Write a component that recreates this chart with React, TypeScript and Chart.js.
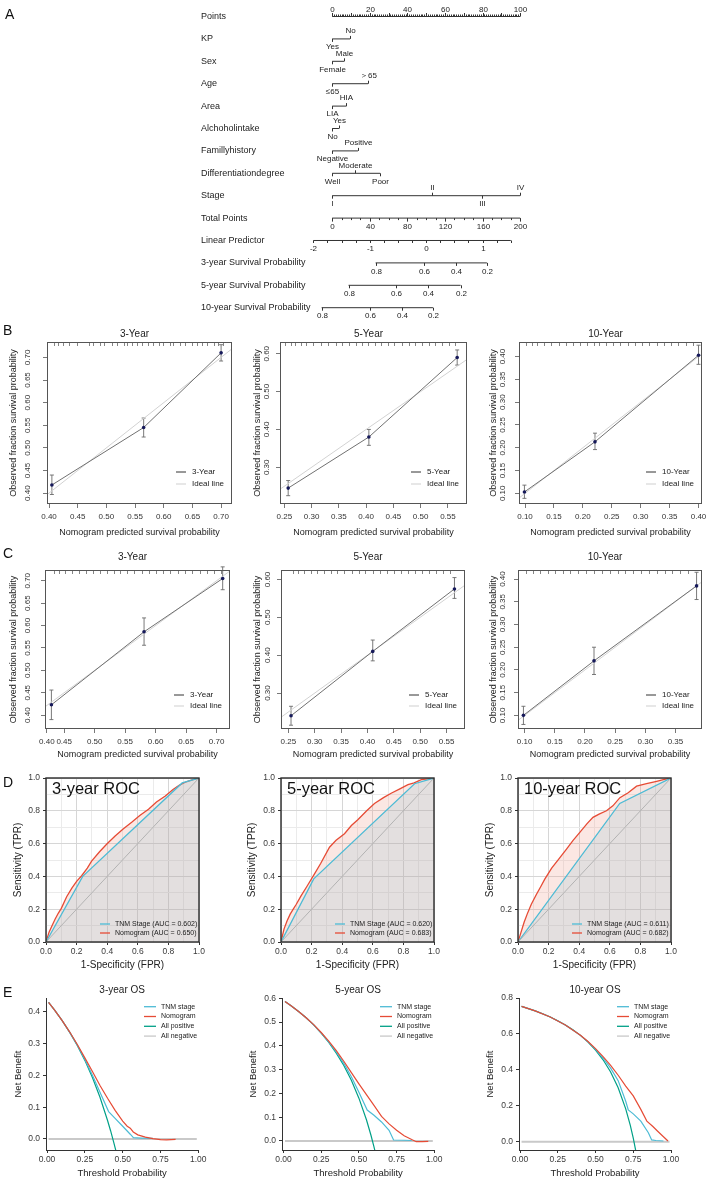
import React, { useEffect, useRef } from 'react';
import { Chart, registerables } from 'chart.js';

Chart.register(...registerables);

const FONT = '"Liberation Sans", Arial, Helvetica, sans-serif';
const BLUE = '#4DBBD5';
const RED = '#E64B35';
const TEAL = '#00A087';
const NEG_GREY = '#C9C9C9';

/* ===================== A. Nomogram data ===================== */
const nomoRowLabels = [
  'Points', 'KP', 'Sex', 'Age', 'Area', 'Alchoholintake', 'Famillyhistory',
  'Differentiationdegree', 'Stage', 'Total Points', 'Linear Predictor',
  '3-year Survival Probability', '5-year Survival Probability', '10-year Survival Probability',
];
const pointsAxisLabels = [0, 20, 40, 60, 80, 100];
const kpLevels = ['Yes', 'No'];
const kpScores = [0, 9.5];
const sexLevels = ['Female', 'Male'];
const sexScores = [0, 6.4];
const ageLevels = ['≤65', '＞65'];
const ageScores = [0, 19.1];
const areaLevels = ['LIA', 'HIA'];
const areaScores = [0, 7.6];
const alcoholLevels = ['No', 'Yes'];
const alcoholScores = [0, 3.6];
const familyLevels = ['Negative', 'Positive'];
const familyScores = [0, 13.7];
const diffLevels = ['Well', 'Moderate', 'Poor'];
const diffScores = [0, 12.2, 25.5];
const stageLevels = ['I', 'II', 'III', 'IV'];
const stageScores = [0, 53.2, 79.6, 100];
const totalPointsLabels = [0, 40, 80, 120, 160, 200];
const linearPredictorLabels = [-2, -1, 0, 1];
const linearPredictorRange = [-2, 1.5];
const survProbLabels = [0.8, 0.6, 0.4, 0.2];
const surv3Scores = [23.1, 48.6, 65.6, 82.3];
const surv5Scores = [8.7, 33.7, 51.0, 68.3];
const surv10Scores = [-5.6, 19.9, 36.9, 53.6];
const TOTAL_PER_POINT = 2;
const LP_ZERO_SCORE = 50;
const SCORE_PER_LP = 30;

/* ===================== B / C. Calibration data ===================== */
const calB3Pred = [0.405, 0.565, 0.700];
const calB3Obs = [0.418, 0.545, 0.710];
const calB3Lo = [0.397, 0.524, 0.692];
const calB3Hi = [0.440, 0.566, 0.728];
const calB3Rug = [0.408, 0.416, 0.425, 0.434, 0.448, 0.469, 0.477, 0.489, 0.495, 0.509, 0.518, 0.530, 0.536, 0.544, 0.553, 0.562, 0.573, 0.582, 0.591, 0.599, 0.611, 0.617, 0.629, 0.637, 0.649, 0.658, 0.666, 0.675, 0.687, 0.695, 0.704];

const calB5Pred = [0.257, 0.405, 0.567];
const calB5Obs = [0.245, 0.380, 0.590];
const calB5Lo = [0.225, 0.358, 0.570];
const calB5Hi = [0.265, 0.400, 0.610];
const calB5Rug = [0.252, 0.262, 0.270, 0.281, 0.290, 0.302, 0.318, 0.330, 0.345, 0.356, 0.368, 0.381, 0.392, 0.404, 0.416, 0.428, 0.440, 0.452, 0.466, 0.478, 0.490, 0.503, 0.515, 0.527, 0.540, 0.552, 0.563];

const calB10Pred = [0.099, 0.221, 0.400];
const calB10Obs = [0.103, 0.213, 0.403];
const calB10Lo = [0.089, 0.196, 0.383];
const calB10Hi = [0.118, 0.232, 0.425];
const calB10Rug = [0.102, 0.112, 0.121, 0.133, 0.145, 0.158, 0.170, 0.183, 0.195, 0.207, 0.220, 0.228, 0.240, 0.252, 0.265, 0.278, 0.290, 0.302, 0.315, 0.328, 0.340, 0.352, 0.365, 0.378, 0.390];

const calC3Pred = [0.429, 0.581, 0.710];
const calC3Obs = [0.423, 0.586, 0.705];
const calC3Lo = [0.390, 0.556, 0.680];
const calC3Hi = [0.456, 0.617, 0.731];
const calC3Rug = [0.433, 0.442, 0.452, 0.463, 0.474, 0.486, 0.497, 0.508, 0.520, 0.531, 0.542, 0.553, 0.565, 0.577, 0.589, 0.600, 0.612, 0.624, 0.636, 0.648, 0.660, 0.672, 0.684, 0.696, 0.707];

const calC5Pred = [0.255, 0.410, 0.565];
const calC5Obs = [0.240, 0.410, 0.575];
const calC5Lo = [0.215, 0.385, 0.550];
const calC5Hi = [0.265, 0.440, 0.605];
const calC5Rug = [0.258, 0.268, 0.280, 0.292, 0.305, 0.318, 0.330, 0.343, 0.356, 0.370, 0.383, 0.396, 0.410, 0.423, 0.437, 0.450, 0.463, 0.476, 0.490, 0.503, 0.517, 0.530, 0.544, 0.557];

const calC10Pred = [0.098, 0.215, 0.385];
const calC10Obs = [0.100, 0.220, 0.385];
const calC10Lo = [0.080, 0.190, 0.355];
const calC10Hi = [0.120, 0.250, 0.415];
const calC10Rug = [0.103, 0.114, 0.126, 0.138, 0.150, 0.163, 0.176, 0.189, 0.202, 0.215, 0.228, 0.241, 0.254, 0.267, 0.280, 0.293, 0.306, 0.319, 0.332, 0.345, 0.358, 0.371];

const calTicks3 = [0.40, 0.45, 0.50, 0.55, 0.60, 0.65, 0.70];
const calTicks5x = [0.25, 0.30, 0.35, 0.40, 0.45, 0.50, 0.55];
const calTicks5y = [0.30, 0.40, 0.50, 0.60];
const calTicks10 = [0.10, 0.15, 0.20, 0.25, 0.30, 0.35, 0.40];
const calTicksC10x = [0.10, 0.15, 0.20, 0.25, 0.30, 0.35];
// C 3-year: the first label sits at the left edge of the box in the original figure
const calTicksC3xPos = [0.4215, 0.45, 0.50, 0.55, 0.60, 0.65, 0.70];
const calTicksC3xText = ['0.40', '0.45', '0.50', '0.55', '0.60', '0.65', '0.70'];

/* ===================== D. ROC data ===================== */
const rocGridTicks = [0, 0.1, 0.2, 0.3, 0.4, 0.5, 0.6, 0.7, 0.8, 0.9, 1.0];
const roc3TnmFpr = [0, 0.24, 0.89, 1];
const roc3TnmTpr = [0, 0.40, 0.97, 1];
const roc3NomoFpr = [0, 0.01, 0.02, 0.04, 0.06, 0.08, 0.10, 0.135, 0.17, 0.20, 0.233, 0.27, 0.298, 0.35, 0.396, 0.45, 0.504, 0.56, 0.613, 0.67, 0.722, 0.78, 0.83, 0.87, 0.917, 0.96, 1];
const roc3NomoTpr = [0, 0.03, 0.06, 0.10, 0.14, 0.175, 0.205, 0.276, 0.33, 0.37, 0.404, 0.45, 0.493, 0.55, 0.596, 0.645, 0.689, 0.73, 0.771, 0.81, 0.854, 0.89, 0.93, 0.955, 0.977, 0.99, 1];
const roc5TnmFpr = [0, 0.214, 0.873, 1];
const roc5TnmTpr = [0, 0.385, 0.965, 1];
const roc5NomoFpr = [0, 0.01, 0.02, 0.04, 0.06, 0.08, 0.10, 0.13, 0.17, 0.218, 0.26, 0.317, 0.36, 0.415, 0.46, 0.502, 0.56, 0.611, 0.67, 0.72, 0.78, 0.83, 0.87, 0.917, 0.96, 1];
const roc5NomoTpr = [0, 0.04, 0.08, 0.13, 0.17, 0.20, 0.23, 0.28, 0.34, 0.414, 0.48, 0.578, 0.62, 0.66, 0.71, 0.746, 0.80, 0.845, 0.88, 0.907, 0.935, 0.959, 0.97, 0.99, 0.995, 1];
const roc10TnmFpr = [0, 0.665, 1];
const roc10TnmTpr = [0, 0.845, 1];
const roc10NomoFpr = [0, 0.01, 0.02, 0.04, 0.06, 0.087, 0.12, 0.15, 0.175, 0.22, 0.27, 0.317, 0.36, 0.404, 0.45, 0.49, 0.53, 0.578, 0.62, 0.666, 0.72, 0.775, 0.84, 0.906, 0.95, 1];
const roc10NomoTpr = [0, 0.03, 0.06, 0.12, 0.17, 0.23, 0.29, 0.34, 0.383, 0.45, 0.51, 0.566, 0.62, 0.668, 0.72, 0.76, 0.78, 0.80, 0.83, 0.88, 0.91, 0.95, 0.965, 0.98, 0.99, 1];

/* ===================== E. Decision curve data ===================== */
const dcaNegT = [0.01, 0.99];
const dcaNeg = [0, 0];
const dca3AllPosT = [0.01, 0.05, 0.10, 0.15, 0.20, 0.25, 0.30, 0.35, 0.40, 0.42, 0.44, 0.46];
const dca3AllPos = [0.429, 0.405, 0.372, 0.335, 0.294, 0.247, 0.193, 0.131, 0.058, 0.026, -0.009, -0.046];
const dca3NomoT = [0.01, 0.05, 0.10, 0.15, 0.20, 0.25, 0.30, 0.35, 0.40, 0.45, 0.50, 0.53, 0.55, 0.57, 0.60, 0.65, 0.70, 0.75, 0.79, 0.85];
const dca3Nomo = [0.429, 0.405, 0.372, 0.336, 0.297, 0.255, 0.212, 0.168, 0.128, 0.090, 0.056, 0.040, 0.034, 0.022, 0.013, 0.006, 0.001, -0.002, -0.003, -0.001];
const dca3TnmT = [0.01, 0.05, 0.10, 0.15, 0.20, 0.25, 0.30, 0.35, 0.407, 0.45, 0.50, 0.55, 0.571, 0.62, 0.70];
const dca3Tnm = [0.429, 0.405, 0.372, 0.335, 0.295, 0.250, 0.200, 0.147, 0.086, 0.065, 0.040, 0.015, 0.004, 0.003, 0.002];

const dca5AllPosT = [0.01, 0.05, 0.10, 0.15, 0.20, 0.25, 0.30, 0.35, 0.40, 0.45, 0.50, 0.55, 0.58, 0.60, 0.61];
const dca5AllPos = [0.586, 0.568, 0.544, 0.518, 0.488, 0.453, 0.414, 0.369, 0.317, 0.255, 0.180, 0.089, 0.024, -0.025, -0.051];
const dca5NomoT = [0.01, 0.05, 0.10, 0.15, 0.20, 0.25, 0.30, 0.35, 0.40, 0.45, 0.50, 0.55, 0.60, 0.65, 0.70, 0.75, 0.80, 0.85, 0.88, 0.92, 0.96];
const dca5Nomo = [0.586, 0.568, 0.544, 0.518, 0.489, 0.456, 0.420, 0.380, 0.335, 0.287, 0.240, 0.195, 0.150, 0.103, 0.072, 0.045, 0.022, 0.006, -0.003, -0.003, -0.002];
const dca5TnmT = [0.01, 0.05, 0.10, 0.15, 0.20, 0.25, 0.30, 0.35, 0.40, 0.45, 0.50, 0.555, 0.60, 0.65, 0.70, 0.73, 0.80, 0.85];
const dca5Tnm = [0.586, 0.568, 0.544, 0.518, 0.488, 0.454, 0.416, 0.374, 0.326, 0.270, 0.205, 0.130, 0.108, 0.080, 0.045, 0.004, 0.003, 0.002];

const dca10AllPosT = [0.01, 0.05, 0.10, 0.15, 0.20, 0.25, 0.30, 0.35, 0.40, 0.45, 0.50, 0.55, 0.60, 0.65, 0.70, 0.73, 0.75, 0.77];
const dca10AllPos = [0.753, 0.742, 0.728, 0.712, 0.694, 0.673, 0.650, 0.623, 0.592, 0.555, 0.510, 0.456, 0.388, 0.300, 0.183, 0.093, 0.020, -0.065];
const dca10NomoT = [0.01, 0.10, 0.20, 0.30, 0.40, 0.45, 0.50, 0.55, 0.60, 0.65, 0.70, 0.75, 0.80, 0.84, 0.88, 0.91, 0.95, 0.98];
const dca10Nomo = [0.753, 0.728, 0.694, 0.650, 0.593, 0.558, 0.518, 0.474, 0.425, 0.370, 0.310, 0.255, 0.180, 0.115, 0.085, 0.060, 0.028, 0.004];
const dca10TnmT = [0.01, 0.10, 0.20, 0.30, 0.40, 0.45, 0.50, 0.55, 0.60, 0.65, 0.70, 0.717, 0.75, 0.80, 0.85, 0.872, 0.90, 0.95];
const dca10Tnm = [0.753, 0.728, 0.694, 0.650, 0.592, 0.556, 0.514, 0.466, 0.410, 0.340, 0.225, 0.177, 0.155, 0.115, 0.050, 0.010, 0.007, 0.004];

const dcaXTicks = [0, 0.25, 0.5, 0.75, 1.0];
const dca3YTicks = [0, 0.1, 0.2, 0.3, 0.4];
const dca5YTicks = [0, 0.1, 0.2, 0.3, 0.4, 0.5, 0.6];
const dca10YTicks = [0, 0.2, 0.4, 0.6, 0.8];
const dcaLegendNames = ['TNM stage', 'Nomogram', 'All positive', 'All negative'];

/* ===================== shared ===================== */
const base: any = {
  responsive: false,
  animation: false,
  events: [],
  plugins: { legend: { display: false }, tooltip: { enabled: false }, title: { display: false } },
};

const xy = (xs: number[], ys: number[]) => xs.map((x, i) => ({ x, y: ys[i] }));

function ChartCanvas({ left, top, width, height, make }: any) {
  const ref = useRef<HTMLCanvasElement | null>(null);
  useEffect(() => {
    if (!ref.current) return;
    const chart = new Chart(ref.current, make());
    return () => chart.destroy();
  }, []);
  return (
    <canvas
      ref={ref}
      width={width}
      height={height}
      style={{ position: 'absolute', left, top, width, height }}
    />
  );
}

/* ===================== A. Nomogram chart ===================== */
function buildNomoRows() {
  const rows: any[] = [];
  const pMarks: any[] = [];
  for (let v = 0; v <= 100; v += 1) pMarks.push({ s: v, dir: -1, len: v % 10 === 0 ? 3.5 : 2 });
  pointsAxisLabels.forEach((v) => pMarks.push({ s: v, dir: -1, len: 0, text: String(v), off: 7 }));
  rows.push({ from: 0, to: 100, marks: pMarks });

  const cats: any[] = [
    [kpLevels, kpScores], [sexLevels, sexScores], [ageLevels, ageScores], [areaLevels, areaScores],
    [alcoholLevels, alcoholScores], [familyLevels, familyScores], [diffLevels, diffScores], [stageLevels, stageScores],
  ];
  cats.forEach(([lv, sc]) => {
    rows.push({
      from: Math.min(...sc),
      to: Math.max(...sc),
      marks: lv.map((t: string, i: number) => ({ s: sc[i], dir: i % 2 === 0 ? 1 : -1, len: 3, text: t, off: 8 })),
    });
  });

  const tMarks: any[] = [];
  for (let v = 0; v <= 200; v += 10) tMarks.push({ s: v / TOTAL_PER_POINT, dir: 1, len: totalPointsLabels.includes(v) ? 3.5 : 2 });
  totalPointsLabels.forEach((v) => tMarks.push({ s: v / TOTAL_PER_POINT, dir: 1, len: 0, text: String(v), off: 8.5 }));
  rows.push({ from: 0, to: 100, marks: tMarks });

  const lpScore = (lp: number) => LP_ZERO_SCORE + SCORE_PER_LP * lp;
  const lMarks: any[] = [];
  for (let v = linearPredictorRange[0]; v <= linearPredictorRange[1] + 1e-9; v += 0.25) lMarks.push({ s: lpScore(v), dir: 1, len: 2.5 });
  linearPredictorLabels.forEach((v) => lMarks.push({ s: lpScore(v), dir: 1, len: 0, text: String(v), off: 8 }));
  rows.push({ from: lpScore(linearPredictorRange[0]), to: lpScore(linearPredictorRange[1]), marks: lMarks });

  [surv3Scores, surv5Scores, surv10Scores].forEach((sc) => {
    rows.push({
      from: Math.min(...sc),
      to: Math.max(...sc),
      marks: survProbLabels.map((p, i) => ({ s: sc[i], dir: 1, len: 3, text: p.toFixed(1), off: 8.5 })),
    });
  });
  return rows;
}

function nomoConfig() {
  const rows = buildNomoRows();
  return {
    type: 'scatter',
    data: {
      datasets: rows.map((r, i) => ({
        data: [{ x: r.from, y: i }, { x: r.to, y: i }],
        showLine: true, fill: false, borderColor: '#333', borderWidth: 1, pointRadius: 0,
      })),
    },
    options: {
      ...base,
      layout: { padding: 0 },
      scales: {
        x: { type: 'linear', display: false, min: -176.7, max: 201.5 },
        y: { type: 'linear', display: false, min: -0.737, max: 13.46, reverse: true },
      },
    },
    plugins: [{
      id: 'nomoMarks',
      afterDatasetsDraw(chart: any) {
        const { ctx } = chart;
        const x = chart.scales.x;
        const y = chart.scales.y;
        ctx.save();
        ctx.strokeStyle = '#333';
        ctx.fillStyle = '#222';
        ctx.lineWidth = 1;
        rows.forEach((row, i) => {
          const py = y.getPixelForValue(i);
          ctx.font = `9px ${FONT}`;
          ctx.textAlign = 'left';
          ctx.textBaseline = 'middle';
          ctx.fillText(nomoRowLabels[i], 201, py);
          row.marks.forEach((m: any) => {
            const px = Math.round(x.getPixelForValue(m.s)) + 0.5;
            if (m.len > 0) {
              ctx.beginPath();
              ctx.moveTo(px, py);
              ctx.lineTo(px, py + m.dir * m.len);
              ctx.stroke();
            }
            if (m.text !== undefined) {
              ctx.font = `8px ${FONT}`;
              ctx.textAlign = 'center';
              ctx.fillText(m.text, px, py + m.dir * m.off);
            }
          });
        });
        ctx.restore();
      },
    }],
  };
}

/* ===================== B / C. Calibration ===================== */
function calibConfig(s: any, L: any) {
  const tickFont = { family: FONT, size: 8 };
  const grid = { drawOnChartArea: false, drawTicks: true, tickLength: 4, color: '#555', lineWidth: 0.8 };
  const xText = s.xTickText || null;
  return {
    type: 'scatter',
    data: {
      datasets: [
        {
          data: xy(s.pred, s.obs), showLine: true, fill: false, borderColor: '#707070', borderWidth: 1,
          pointRadius: 1.8, pointBackgroundColor: '#16195a', pointBorderWidth: 0,
        },
        {
          data: [{ x: 0, y: 0 }, { x: 1, y: 1 }], showLine: true, fill: false, borderColor: '#d2d2d2',
          borderWidth: 1, pointRadius: 0,
        },
      ],
    },
    options: {
      ...base,
      layout: { padding: { left: 0, top: L.padTop, right: L.padRight, bottom: 0 } },
      scales: {
        x: {
          type: 'linear', min: s.xRange[0], max: s.xRange[1],
          afterBuildTicks: (sc: any) => { sc.ticks = s.xTicks.map((v: number) => ({ value: v })); },
          afterFit: (sc: any) => { sc.height = L.xAxisH; },
          ticks: {
            autoSkip: false, maxRotation: 0, padding: 4, color: '#333', font: tickFont,
            callback: (v: any, i: number) => (xText ? xText[i] : Number(v).toFixed(2)),
          },
          grid, border: { display: false },
          title: { display: true, text: 'Nomogram predicted survival probability', color: '#222', font: { family: FONT, size: 9 }, padding: { top: 0, bottom: L.xTitlePad } },
        },
        y: {
          type: 'linear', min: s.yRange[0], max: s.yRange[1],
          afterBuildTicks: (sc: any) => { sc.ticks = s.yTicks.map((v: number) => ({ value: v })); },
          afterFit: (sc: any) => { sc.width = L.yAxisW; },
          ticks: { autoSkip: false, minRotation: 90, maxRotation: 90, crossAlign: 'center', padding: L.yTickPad, color: '#333', font: tickFont, callback: (v: any) => Number(v).toFixed(2) },
          grid, border: { display: false },
          title: { display: true, text: 'Observed fraction survival probability', color: '#222', font: { family: FONT, size: 9 }, padding: { top: L.yTitlePad, bottom: 0 } },
        },
      },
    },
    plugins: [{
      id: 'calibExtras',
      beforeDatasetsDraw(chart: any) {
        const { ctx } = chart;
        const x = chart.scales.x;
        const y = chart.scales.y;
        ctx.save();
        ctx.strokeStyle = '#6a6a6a';
        ctx.lineWidth = 0.9;
        s.pred.forEach((p: number, i: number) => {
          const px = x.getPixelForValue(p);
          const y1 = y.getPixelForValue(s.lo[i]);
          const y2 = y.getPixelForValue(s.hi[i]);
          ctx.beginPath();
          ctx.moveTo(px, y1); ctx.lineTo(px, y2);
          ctx.moveTo(px - 2, y1); ctx.lineTo(px + 2, y1);
          ctx.moveTo(px - 2, y2); ctx.lineTo(px + 2, y2);
          ctx.stroke();
        });
        ctx.restore();
      },
      afterDatasetsDraw(chart: any) {
        const { ctx, chartArea: a } = chart;
        const x = chart.scales.x;
        ctx.save();
        ctx.strokeStyle = '#666';
        ctx.lineWidth = 0.8;
        s.rug.forEach((r: number) => {
          const px = Math.round(x.getPixelForValue(r)) + 0.5;
          ctx.beginPath();
          ctx.moveTo(px, a.top);
          ctx.lineTo(px, a.top + 4);
          ctx.stroke();
        });
        ctx.strokeStyle = '#555';
        ctx.lineWidth = 1;
        ctx.strokeRect(a.left + 0.5, a.top + 0.5, a.right - a.left - 1, a.bottom - a.top - 1);
        ctx.fillStyle = '#222';
        ctx.font = `10px ${FONT}`;
        ctx.textAlign = 'center';
        ctx.textBaseline = 'middle';
        ctx.fillText(s.title, (a.left + a.right) / 2 - 5, a.top - L.titleGap);
        const items = [[s.title, '#333'], ['Ideal line', '#cfcfcf']];
        ctx.font = `8px ${FONT}`;
        ctx.textAlign = 'left';
        items.forEach(([t, c], k) => {
          const ly = a.bottom - (k === 0 ? L.legY1 : L.legY2);
          ctx.strokeStyle = c;
          ctx.beginPath();
          ctx.moveTo(a.right - 56, ly);
          ctx.lineTo(a.right - 46, ly);
          ctx.stroke();
          ctx.fillStyle = '#222';
          ctx.fillText(t, a.right - 40, ly);
        });
        ctx.restore();
      },
    }],
  };
}

const calibSpecs: any[] = [
  { title: '3-Year', pred: calB3Pred, obs: calB3Obs, lo: calB3Lo, hi: calB3Hi, rug: calB3Rug, xRange: [0.3965, 0.719], yRange: [0.376, 0.734], xTicks: calTicks3, yTicks: calTicks3 },
  { title: '5-Year', pred: calB5Pred, obs: calB5Obs, lo: calB5Lo, hi: calB5Hi, rug: calB5Rug, xRange: [0.242, 0.585], yRange: [0.203, 0.631], xTicks: calTicks5x, yTicks: calTicks5y },
  { title: '10-Year', pred: calB10Pred, obs: calB10Obs, lo: calB10Lo, hi: calB10Hi, rug: calB10Rug, xRange: [0.0896, 0.406], yRange: [0.0766, 0.432], xTicks: calTicks10, yTicks: calTicks10 },
  { title: '3-Year', pred: calC3Pred, obs: calC3Obs, lo: calC3Lo, hi: calC3Hi, rug: calC3Rug, xRange: [0.4185, 0.722], yRange: [0.369, 0.724], xTicks: calTicksC3xPos, xTickText: calTicksC3xText, yTicks: calTicks3 },
  { title: '5-Year', pred: calC5Pred, obs: calC5Obs, lo: calC5Lo, hi: calC5Hi, rug: calC5Rug, xRange: [0.236, 0.585], yRange: [0.205, 0.625], xTicks: calTicks5x, yTicks: calTicks5y },
  { title: '10-Year', pred: calC10Pred, obs: calC10Obs, lo: calC10Lo, hi: calC10Hi, rug: calC10Rug, xRange: [0.089, 0.394], yRange: [0.07, 0.42], xTicks: calTicksC10x, yTicks: calTicks10 },
];
const calibLayouts: any[] = [
  { left: 0, top: 322, w: 245, h: 222, padTop: 20, padRight: 13, yAxisW: 47, xAxisH: 40, xTitlePad: 5.6, yTickPad: 7.2, yTitlePad: 8.6, titleGap: 8, legY1: 32, legY2: 20 },
  { left: 233, top: 322, w: 245, h: 222, padTop: 20, padRight: 11, yAxisW: 47, xAxisH: 40, xTitlePad: 5.6, yTickPad: 1.2, yTitlePad: 19, titleGap: 8, legY1: 32, legY2: 20 },
  { left: 472, top: 322, w: 239, h: 222, padTop: 20, padRight: 9, yAxisW: 47, xAxisH: 40, xTitlePad: 5.6, yTickPad: 4.2, yTitlePad: 16.6, titleGap: 8, legY1: 32, legY2: 20 },
  { left: 0, top: 550, w: 245, h: 222, padTop: 20, padRight: 15, yAxisW: 45, xAxisH: 43, xTitlePad: 11.6, yTickPad: 5.2, yTitlePad: 8.6, titleGap: 13, legY1: 34, legY2: 23 },
  { left: 233, top: 550, w: 245, h: 222, padTop: 20, padRight: 13, yAxisW: 48, xAxisH: 43, xTitlePad: 11.6, yTickPad: 1.2, yTitlePad: 19, titleGap: 13, legY1: 34, legY2: 23 },
  { left: 472, top: 550, w: 239, h: 222, padTop: 20, padRight: 9, yAxisW: 46, xAxisH: 43, xTitlePad: 11.6, yTickPad: 3.2, yTitlePad: 16.6, titleGap: 13, legY1: 34, legY2: 23 },
];

/* ===================== D. ROC ===================== */
function rocConfig(r: any, L: any) {
  const isMajor = (v: number) => Math.round(v * 10) % 2 === 0;
  const axis = (isX: boolean, title: string) => ({
    type: 'linear', min: 0, max: 1,
    afterBuildTicks: (sc: any) => { sc.ticks = rocGridTicks.map((v) => ({ value: v })); },
    afterFit: (sc: any) => { if (isX) sc.height = L.xAxisH; else sc.width = L.yAxisW; },
    ticks: {
      autoSkip: false, maxRotation: 0, padding: isX ? 2 : 3, color: '#3a3a3a',
      font: { family: FONT, size: 8.5 },
      callback: (v: any) => (isMajor(Number(v)) ? Number(v).toFixed(1) : ''),
    },
    grid: {
      drawOnChartArea: true, drawTicks: true, tickLength: 3, lineWidth: 1,
      color: (c: any) => (c.tick && isMajor(c.tick.value) ? '#d6d6d6' : '#ebebeb'),
      tickColor: (c: any) => (c.tick && isMajor(c.tick.value) ? '#333' : 'rgba(0,0,0,0)'),
    },
    border: { display: false },
    title: {
      display: true, text: title, color: '#222', font: { family: FONT, size: 10 },
      padding: isX ? { top: 0, bottom: L.xTitlePad } : { top: L.yTitlePad, bottom: 0 },
    },
  });
  return {
    type: 'scatter',
    data: {
      datasets: [
        { data: xy(r.tnmFpr, r.tnmTpr), showLine: true, borderColor: BLUE, borderWidth: 1.3, pointRadius: 0, fill: 'origin', backgroundColor: 'rgba(178,165,165,0.36)', order: 1 },
        { data: xy(r.nomoFpr, r.nomoTpr), showLine: true, borderColor: RED, borderWidth: 1.3, pointRadius: 0, fill: '-1', backgroundColor: 'rgba(240,160,145,0.25)', order: 2 },
        { data: [{ x: 0, y: 0 }, { x: 1, y: 1 }], showLine: true, borderColor: '#b3b3b3', borderWidth: 1, pointRadius: 0, fill: false, order: 0 },
      ],
    },
    options: {
      ...base,
      layout: { padding: { left: 0, top: L.padTop, right: L.padRight, bottom: 0 } },
      scales: { x: axis(true, '1-Specificity (FPR)'), y: axis(false, 'Sensitivity (TPR)') },
    },
    plugins: [{
      id: 'rocExtras',
      afterDatasetsDraw(chart: any) {
        const { ctx, chartArea: a } = chart;
        ctx.save();
        ctx.strokeStyle = '#2a2a2a';
        ctx.lineWidth = 1.4;
        ctx.strokeRect(a.left, a.top, a.right - a.left, a.bottom - a.top);
        ctx.fillStyle = '#111';
        ctx.font = `16.5px ${FONT}`;
        ctx.textAlign = 'left';
        ctx.textBaseline = 'alphabetic';
        ctx.fillText(r.title, a.left + 6, a.top + 15.5);
        ctx.font = `7px ${FONT}`;
        ctx.textBaseline = 'middle';
        const items = [[r.tnmLabel, BLUE], [r.nomoLabel, RED]];
        items.forEach(([t, c], k) => {
          const ly = a.bottom - (k === 0 ? 18 : 9);
          ctx.strokeStyle = c;
          ctx.lineWidth = 1.3;
          ctx.beginPath();
          ctx.moveTo(a.right - 99, ly);
          ctx.lineTo(a.right - 89, ly);
          ctx.stroke();
          ctx.fillStyle = '#222';
          ctx.fillText(t, a.right - 84, ly);
        });
        ctx.restore();
      },
    }],
  };
}

const rocSpecs: any[] = [
  { title: '3-year ROC', tnmFpr: roc3TnmFpr, tnmTpr: roc3TnmTpr, nomoFpr: roc3NomoFpr, nomoTpr: roc3NomoTpr, tnmLabel: 'TNM Stage (AUC = 0.602)', nomoLabel: 'Nomogram (AUC = 0.650)' },
  { title: '5-year ROC', tnmFpr: roc5TnmFpr, tnmTpr: roc5TnmTpr, nomoFpr: roc5NomoFpr, nomoTpr: roc5NomoTpr, tnmLabel: 'TNM Stage (AUC = 0.620)', nomoLabel: 'Nomogram (AUC = 0.683)' },
  { title: '10-year ROC', tnmFpr: roc10TnmFpr, tnmTpr: roc10TnmTpr, nomoFpr: roc10NomoFpr, nomoTpr: roc10NomoTpr, tnmLabel: 'TNM Stage (AUC = 0.611)', nomoLabel: 'Nomogram (AUC = 0.682)' },
];
const rocLayouts: any[] = [
  { left: 0, top: 766, w: 215, h: 209, padTop: 12, padRight: 16, yAxisW: 46, xAxisH: 33, xTitlePad: 4, yTitlePad: 12 },
  { left: 235, top: 766, w: 215, h: 209, padTop: 12, padRight: 16, yAxisW: 46, xAxisH: 33, xTitlePad: 4, yTitlePad: 11.5 },
  { left: 472, top: 766, w: 215, h: 209, padTop: 12, padRight: 16, yAxisW: 46, xAxisH: 33, xTitlePad: 4, yTitlePad: 12 },
];

/* ===================== E. Decision curves ===================== */
function dcaConfig(d: any, L: any) {
  const line = (t: number[], v: number[], color: string, width: number) => ({
    data: xy(t, v), showLine: true, fill: false, borderColor: color, borderWidth: width, pointRadius: 0,
  });
  const tickFont = { family: FONT, size: 8.5 };
  const grid = { drawOnChartArea: false, drawTicks: true, tickLength: 3, color: '#333', lineWidth: 1 };
  const border = { display: true, color: '#333', width: 1 };
  return {
    type: 'scatter',
    data: {
      datasets: [
        line(d.nomoT, d.nomo, RED, 1.2),
        line(d.tnmT, d.tnm, BLUE, 1.2),
        line(d.allPosT, d.allPos, TEAL, 1.2),
        line(dcaNegT, dcaNeg, NEG_GREY, 2),
      ],
    },
    options: {
      ...base,
      layout: { padding: { left: 0, top: L.padTop, right: L.padRight, bottom: 0 } },
      scales: {
        x: {
          type: 'linear', min: L.xMin, max: 1.0,
          afterBuildTicks: (sc: any) => { sc.ticks = dcaXTicks.map((v) => ({ value: v })); },
          afterFit: (sc: any) => { sc.height = L.xAxisH; },
          ticks: { autoSkip: false, maxRotation: 0, padding: 2, color: '#3a3a3a', font: tickFont, callback: (v: any) => Number(v).toFixed(2) },
          grid, border,
          title: { display: true, text: 'Threshold Probability', color: '#222', font: { family: FONT, size: 9.5 }, padding: { top: 0, bottom: L.xTitlePad } },
        },
        y: {
          type: 'linear', min: d.yRange[0], max: d.yRange[1],
          afterBuildTicks: (sc: any) => { sc.ticks = d.yTicks.map((v: number) => ({ value: v })); },
          afterFit: (sc: any) => { sc.width = L.yAxisW; },
          ticks: { autoSkip: false, padding: 3, color: '#3a3a3a', font: tickFont, callback: (v: any) => Number(v).toFixed(1) },
          grid, border,
          title: { display: true, text: 'Net Benefit', color: '#222', font: { family: FONT, size: 9.5 }, padding: { top: L.yTitlePad, bottom: 0 } },
        },
      },
    },
    plugins: [{
      id: 'dcaExtras',
      afterDatasetsDraw(chart: any) {
        const { ctx, chartArea: a } = chart;
        ctx.save();
        ctx.fillStyle = '#222';
        ctx.font = `10px ${FONT}`;
        ctx.textAlign = 'center';
        ctx.textBaseline = 'middle';
        ctx.fillText(d.title, (a.left + a.right) / 2, a.top - 8);
        const colors = [BLUE, RED, TEAL, NEG_GREY];
        ctx.font = `7px ${FONT}`;
        ctx.textAlign = 'left';
        dcaLegendNames.forEach((t, k) => {
          const ly = a.top + 8.7 + k * 9.8;
          ctx.strokeStyle = colors[k];
          ctx.lineWidth = 1.3;
          ctx.beginPath();
          ctx.moveTo(a.left + 98, ly);
          ctx.lineTo(a.left + 110, ly);
          ctx.stroke();
          ctx.fillStyle = '#222';
          ctx.fillText(t, a.left + 115, ly);
        });
        ctx.restore();
      },
    }],
  };
}

const dcaSpecs: any[] = [
  { title: '3-year OS', nomoT: dca3NomoT, nomo: dca3Nomo, tnmT: dca3TnmT, tnm: dca3Tnm, allPosT: dca3AllPosT, allPos: dca3AllPos, yRange: [-0.0346, 0.443], yTicks: dca3YTicks },
  { title: '5-year OS', nomoT: dca5NomoT, nomo: dca5Nomo, tnmT: dca5TnmT, tnm: dca5Tnm, allPosT: dca5AllPosT, allPos: dca5AllPos, yRange: [-0.038, 0.601], yTicks: dca5YTicks },
  { title: '10-year OS', nomoT: dca10NomoT, nomo: dca10Nomo, tnmT: dca10TnmT, tnm: dca10Tnm, allPosT: dca10AllPosT, allPos: dca10AllPos, yRange: [-0.046, 0.80], yTicks: dca10YTicks },
];
const dcaLayouts: any[] = [
  { left: 0, top: 985, w: 215, h: 198, padTop: 13, padRight: 16.7, yAxisW: 46, xAxisH: 33, xTitlePad: 4.3, yTitlePad: 12.6, xMin: -0.007 },
  { left: 235, top: 985, w: 215, h: 198, padTop: 13, padRight: 15.7, yAxisW: 47, xAxisH: 33, xTitlePad: 4.3, yTitlePad: 12.6, xMin: -0.01 },
  { left: 472, top: 985, w: 215, h: 198, padTop: 13, padRight: 16, yAxisW: 47, xAxisH: 33, xTitlePad: 4.3, yTitlePad: 12.6, xMin: -0.007 },
];

/* ===================== App ===================== */
const panelLetters = [
  { t: 'A', x: 5, y: 14 },
  { t: 'B', x: 3, y: 330 },
  { t: 'C', x: 3, y: 553 },
  { t: 'D', x: 3, y: 782 },
  { t: 'E', x: 3, y: 992 },
];

export default function App() {
  return (
    <div style={{ position: 'absolute', left: 0, top: 0, width: 711, height: 1183, background: '#fff', overflow: 'hidden', fontFamily: FONT }}>
      <ChartCanvas left={0} top={0} width={711} height={318} make={nomoConfig} />
      {calibSpecs.map((s, i) => {
        const L = calibLayouts[i];
        return <ChartCanvas key={'cal' + i} left={L.left} top={L.top} width={L.w} height={L.h} make={() => calibConfig(s, L)} />;
      })}
      {rocSpecs.map((r, i) => {
        const L = rocLayouts[i];
        return <ChartCanvas key={'roc' + i} left={L.left} top={L.top} width={L.w} height={L.h} make={() => rocConfig(r, L)} />;
      })}
      {dcaSpecs.map((d, i) => {
        const L = dcaLayouts[i];
        return <ChartCanvas key={'dca' + i} left={L.left} top={L.top} width={L.w} height={L.h} make={() => dcaConfig(d, L)} />;
      })}
      {panelLetters.map((p) => (
        <div key={p.t} style={{ position: 'absolute', left: p.x, top: p.y - 8, fontSize: 14, lineHeight: '16px', color: '#111' }}>{p.t}</div>
      ))}
    </div>
  );
}
